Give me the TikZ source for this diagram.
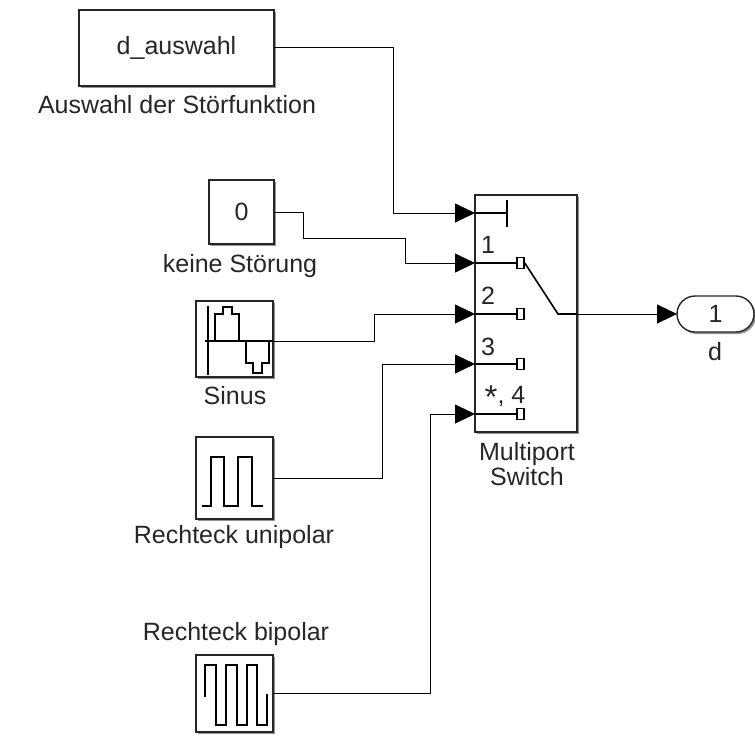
\documentclass[tikz,border=0pt]{standalone}
\usepackage{fontspec}
\setmainfont{Liberation Sans}
\usetikzlibrary{arrows.meta,shadows,shapes.misc}
\newcommand{\lblfont}{\fontsize{25}{25}\selectfont}
\newcommand{\bigstar}{\raisebox{-5pt}{\fontsize{33}{25}\selectfont *}}
\tikzset{
	block/.style = {draw=black!85, fill=white, line width=1.4pt, inner sep=0pt, outer sep=0pt, drop shadow={shadow xshift=2pt, shadow yshift=-2pt, fill=black!60, opacity=0.7}},
	lbl/.style = {inner sep=0pt, align=center, text=black!85, font=\lblfont},
	wire/.style = {line width=0.9pt, -{Triangle[length=20pt,width=19pt]}},
	inner/.style = {line width=1.6pt},
	icon/.style = {line width=1.8pt},
	term/.style = {draw, fill=white, line width=1.8pt, minimum width=7pt, minimum height=11pt, inner sep=0pt}
}
\begin{document}
\begin{tikzpicture}[x=1pt,y=-1pt]
	\useasboundingbox (0,0) rectangle (755,742);
	% sources
	\node[block, minimum width=195pt, minimum height=76pt, lbl] (auswahl) at (176.5,48) {d\_auswahl};
	\node[lbl] (auswahllbl) at (177,105) {Auswahl der Störfunktion};
	\node[block, minimum width=65pt, minimum height=64pt, lbl] (konst) at (241.5,212) {0};
	\node[lbl] (konstlbl) at (240,266) {keine Störung};
	\node[block, minimum width=77pt, minimum height=76pt] (sinus) at (234.5,339) {};
	\node[lbl] (sinuslbl) at (235,396) {Sinus};
	\node[block, minimum width=77pt, minimum height=82pt] (uni) at (234.5,478) {};
	\node[lbl] (unilbl) at (234,537) {Rechteck unipolar};
	\node[block, minimum width=77pt, minimum height=77pt] (bi) at (234.5,693.5) {};
	\node[lbl] (bilbl) at (236,634) {Rechteck bipolar};
	% switch and output
	\node[block, minimum width=102pt, minimum height=237pt] (switch) at (526,313.5) {};
	\node[lbl] (switchlbl) at (527,464) {Multiport\\Switch};
	\node[block, rounded rectangle, minimum width=77pt, minimum height=36pt, lbl] (out) at (715.5,314) {1};
	\node[lbl] (outlbl) at (715,352) {d};
	\coordinate (p0) at (475,213);
	\coordinate (p1) at (475,263);
	\coordinate (p2) at (475,314);
	\coordinate (p3) at (475,364);
	\coordinate (p4) at (475,414);
	% connectors
	\draw[wire] (auswahl.east |- 0,47) -- (393,47) |- (p0);
	\draw[wire] (konst.east) -- (303,212) -- (303,238) -- (405,238) |- (p1);
	\draw[wire] (sinus.east |- 0,341) -- (374,341) |- (p2);
	\draw[wire] (uni.east) -- (382,478) |- (p3);
	\draw[wire] (bi.east) -- (430,693.5) |- (p4);
	\draw[wire] (switch.east |- p2) -- (out.west);
	% inside the switch
	\draw[inner] (p0) -- (507,213);
	\draw[inner] (507,200) -- (507,227);
	\foreach \p in {1,2,3,4} {
		\draw[inner] (p\p) -- ++(41,0) node[term, anchor=west] (t\p) {};
	}
	\draw[inner] (t1.east) -- (558,314) -- (switch.east |- p2);
	\node[lbl] (n1) at (488,245) {1};
	\node[lbl] (n2) at (488,296) {2};
	\node[lbl] (n3) at (488,347) {3};
	\node[lbl] (n4) at (505,397) {\bigstar, 4};
	% icons
	\draw[icon] (208,306) -- (208,375);
	\draw[icon] (205,341) -- (273,341);
	\draw[icon] (215,341) -- (215,314) -- (223,314) -- (223,307) -- (232,307) -- (232,314) -- (239,314) -- (239,341);
	\draw[icon] (246,341) -- (246,363) -- (253,363) -- (253,373) -- (262,373) -- (262,363) -- (269,363) -- (269,341);
	\draw[icon] (202,506) -- (211,506) -- (211,457) -- (224,457) -- (224,506) -- (238,506) -- (238,457) -- (252,457) -- (252,506) -- (263,506);
	\draw[icon] (205,697) -- (205,665) -- (216,665) -- (216,725) -- (226,725) -- (226,665) -- (237,665) -- (237,725) -- (247,725) -- (247,665) -- (257,665) -- (257,725) -- (267,725) -- (267,694);
\end{tikzpicture}
\end{document}
